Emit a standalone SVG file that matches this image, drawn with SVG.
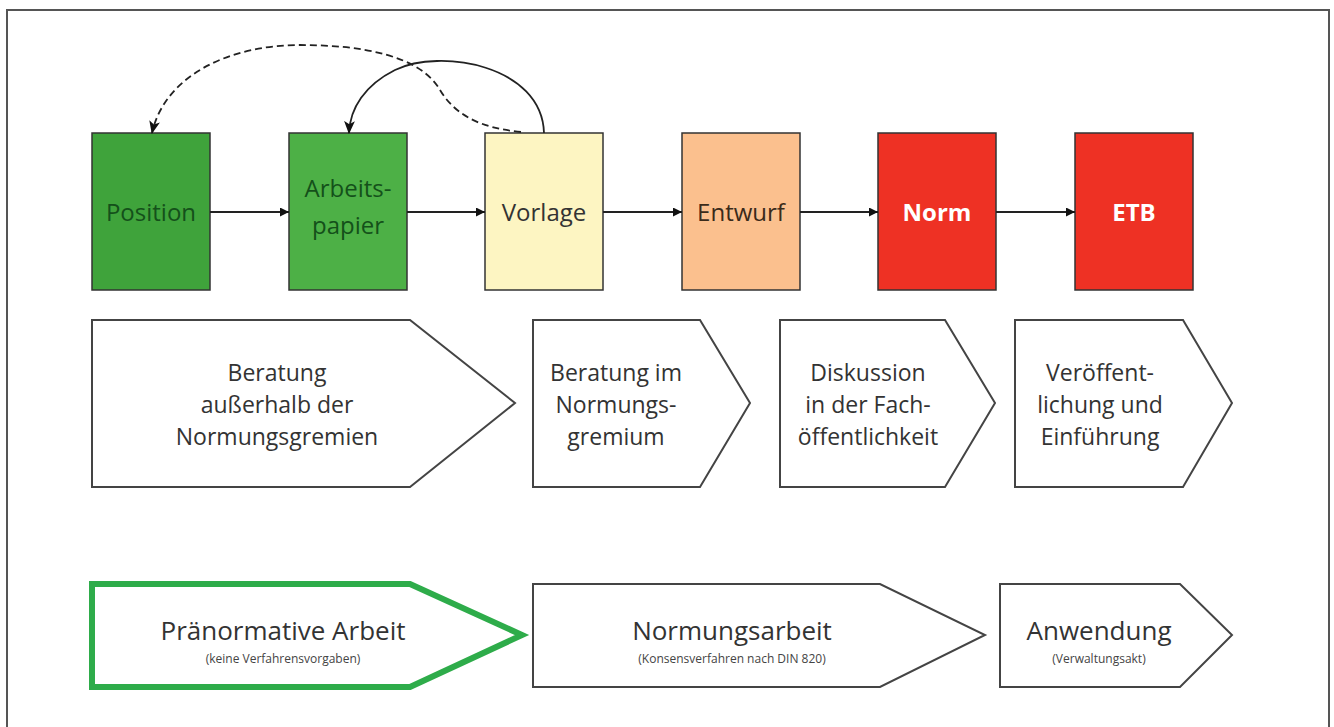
<svg xmlns="http://www.w3.org/2000/svg" width="1334" height="727" viewBox="0 0 1334 727">
<defs>
<style>
.box{stroke:#333;stroke-width:1.5}
.t{font-family:"Open Sans","Liberation Sans",sans-serif;text-anchor:middle}
.big{font-size:24px}
.mid{font-size:23px;fill:#333}
.sm{font-size:12px;fill:#444}
.chev{fill:#fff;stroke:#444;stroke-width:2}
.con{fill:none;stroke:#222;stroke-width:1.8}
</style>
<marker id="ah" viewBox="0 0 10 10" refX="10" refY="5" markerWidth="9" markerHeight="9" markerUnits="userSpaceOnUse" orient="auto">
<path d="M0,0 L10,5 L0,10 Z" fill="#111"/>
</marker>
<marker id="ah2" viewBox="0 0 12 10" refX="11" refY="5" markerWidth="13" markerHeight="11" markerUnits="userSpaceOnUse" orient="auto">
<path d="M0,0 L12,5 L0,10 L3,5 Z" fill="#111"/>
</marker>
</defs>
<rect x="0" y="0" width="1334" height="727" fill="#fff"/>
<rect x="7" y="10" width="1322" height="740" fill="none" stroke="#555" stroke-width="2"/>

<g id="n-position"><rect class="box" x="92" y="133" width="118" height="157" fill="#3fa33b"/><text class="t big" x="151" y="221" fill="#14501a">Position</text></g>
<g id="n-arbeitspapier"><rect class="box" x="289" y="133" width="118" height="157" fill="#4db046"/><text class="t big" x="348" y="197" fill="#14501a">Arbeits-</text><text class="t big" x="348" y="234" fill="#14501a">papier</text></g>
<g id="n-vorlage"><rect class="box" x="485" y="133" width="118" height="157" fill="#fdf5c2"/><text class="t big" x="544" y="221" fill="#333">Vorlage</text></g>
<g id="n-entwurf"><rect class="box" x="682" y="133" width="118" height="157" fill="#fbc08e"/><text class="t big" x="741" y="221" fill="#3a2a1a">Entwurf</text></g>
<g id="n-norm"><rect class="box" x="878" y="133" width="118" height="157" fill="#ee3124"/><text class="t big" x="937" y="221" fill="#fff" font-weight="bold">Norm</text></g>
<g id="n-etb"><rect class="box" x="1075" y="133" width="118" height="157" fill="#ee3124"/><text class="t big" x="1134" y="221" fill="#fff" font-weight="bold">ETB</text></g>

<g id="connectors">
<line class="con" x1="210" y1="212" x2="289" y2="212" marker-end="url(#ah)"/>
<line class="con" x1="407" y1="212" x2="485" y2="212" marker-end="url(#ah)"/>
<line class="con" x1="603" y1="212" x2="682" y2="212" marker-end="url(#ah)"/>
<line class="con" x1="800" y1="212" x2="878" y2="212" marker-end="url(#ah)"/>
<line class="con" x1="996" y1="212" x2="1075" y2="212" marker-end="url(#ah)"/>
<path class="con" stroke-width="2" d="M544,133 C542,65 440,48 395,70 C365,85 350,108 349,133" marker-end="url(#ah2)"/>
<path class="con" stroke-width="2" d="M521,132 C480,128 455,115 440,90 C420,55 360,45 300,45 C230,45 165,75 152,133" stroke-dasharray="7,4" marker-end="url(#ah2)"/>
</g>

<g id="c-beratung-aussen"><path class="chev" d="M92,320 H410 L515,403 L410,487 H92 Z"/><text class="t mid" x="277" y="381">Beratung</text><text class="t mid" x="277" y="413">außerhalb der</text><text class="t mid" x="277" y="445">Normungsgremien</text></g>
<g id="c-beratung-im"><path class="chev" d="M533,320 H700 L750,403 L700,487 H533 Z"/><text class="t mid" x="616" y="381">Beratung im</text><text class="t mid" x="616" y="413">Normungs-</text><text class="t mid" x="616" y="445">gremium</text></g>
<g id="c-diskussion"><path class="chev" d="M780,320 H945 L995,403 L945,487 H780 Z"/><text class="t mid" x="868" y="381">Diskussion</text><text class="t mid" x="868" y="413">in der Fach-</text><text class="t mid" x="868" y="445">öffentlichkeit</text></g>
<g id="c-veroeff"><path class="chev" d="M1015,320 H1183 L1232,403 L1183,487 H1015 Z"/><text class="t mid" x="1100" y="381">Veröffent-</text><text class="t mid" x="1100" y="413">lichung und</text><text class="t mid" x="1100" y="445">Einführung</text></g>

<g id="p-praenormativ"><path d="M92,584 H410 L522,635 L410,687 H92 Z" fill="#fff" stroke="#2eac4a" stroke-width="6"/><text class="t" x="283" y="640" font-size="26" fill="#333">Pränormative Arbeit</text><text class="t sm" x="283" y="663">(keine Verfahrensvorgaben)</text></g>
<g id="p-normungsarbeit"><path class="chev" d="M533,584 H880 L985,635 L880,687 H533 Z"/><text class="t" x="732" y="640" font-size="26" fill="#333">Normungsarbeit</text><text class="t sm" x="732" y="663">(Konsensverfahren nach DIN 820)</text></g>
<g id="p-anwendung"><path class="chev" d="M1000,584 H1180 L1232,635 L1180,687 H1000 Z"/><text class="t" x="1099" y="640" font-size="26" fill="#333">Anwendung</text><text class="t sm" x="1099" y="663">(Verwaltungsakt)</text></g>
</svg>
